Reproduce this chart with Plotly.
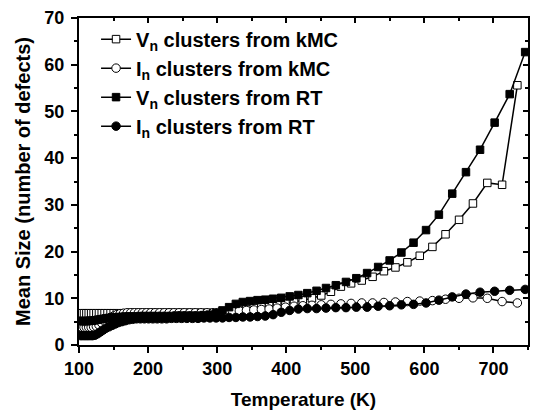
import plotly.graph_objects as go

# Temperatures (K) of the kMC points (open markers)
T_kmc = [100.9, 104.1, 107.3, 110.7, 114.1, 117.6, 121.2, 125.1, 128.9, 132.9,
         137.0, 141.3, 145.7, 150.2, 154.8, 159.6, 164.6, 169.7, 174.9, 180.3,
         185.9, 191.7, 197.7, 203.8, 210.1, 216.6, 223.4, 230.3, 237.3, 244.7,
         252.3, 260.2, 268.2, 276.5, 285.1, 294.0, 303.0, 312.5, 322.1, 332.1,
         342.4, 353.1, 364.0, 375.2, 386.8, 398.9, 411.3, 424.0, 437.2, 450.7,
         464.7, 479.1, 493.9, 509.3, 525.0, 541.4, 558.1, 575.4, 593.3, 611.6,
         630.6, 650.2, 670.3, 691.1, 712.5, 734.6]

# Temperatures (K) of the rate-theory points (filled markers)
T_rt = [102.5, 105.7, 109.0, 112.4, 115.9, 119.4, 123.1, 127.0, 130.9, 135.0,
        139.1, 143.5, 147.9, 152.5, 157.2, 162.1, 167.1, 172.3, 177.6, 183.1,
        188.8, 194.7, 200.7, 206.9, 213.3, 219.9, 226.8, 233.8, 241.0, 248.5,
        256.2, 264.2, 272.3, 280.8, 289.5, 298.5, 307.7, 317.3, 327.1, 337.2,
        347.7, 358.5, 369.6, 381.0, 392.8, 405.0, 417.6, 430.5, 443.9, 457.6,
        471.8, 486.5, 501.5, 517.1, 533.1, 549.7, 566.7, 584.3, 602.4, 621.0,
        640.3, 660.2, 680.6, 701.7, 723.5, 745.9]

vn_kmc = [6.8, 6.8, 6.8, 6.8, 6.8, 6.8, 6.8, 6.8, 6.8, 6.8,
          6.8, 6.8, 6.8, 6.8, 6.8, 6.8, 6.8, 6.8, 6.9, 6.9,
          6.9, 6.9, 6.9, 6.9, 6.9, 6.9, 6.9, 6.9, 6.9, 6.9,
          6.9, 6.9, 6.9, 6.9, 6.9, 6.9, 7.0, 7.1, 7.3, 7.5,
          7.7, 7.9, 8.1, 8.3, 8.6, 8.9, 9.2, 9.6, 10.0, 10.6,
          11.4, 12.5, 13.2, 13.8, 14.6, 15.8, 16.6, 17.7, 19.1, 21.0,
          23.7, 26.8, 30.3, 34.7, 34.3, 55.6]

in_kmc = [3.8, 3.8, 3.8, 3.8, 3.8, 3.8, 3.9, 4.0, 4.3, 4.7,
          5.1, 5.5, 5.9, 6.2, 6.5, 6.7, 6.8, 6.9, 6.9, 6.9,
          6.9, 6.9, 6.9, 6.9, 6.9, 6.9, 6.9, 6.9, 6.9, 6.9,
          6.9, 6.9, 6.9, 6.9, 6.9, 6.9, 7.0, 7.1, 7.2, 7.3,
          7.4, 7.5, 7.6, 7.7, 7.9, 8.1, 8.3, 8.4, 8.5, 8.6,
          8.7, 8.8, 8.9, 9.0, 9.0, 9.1, 9.2, 9.3, 9.4, 9.5,
          9.8, 10.0, 10.1, 10.0, 9.3, 9.0]

vn_rt = [5.1, 5.1, 5.1, 5.1, 5.2, 5.2, 5.3, 5.4, 5.5, 5.6,
         5.7, 5.8, 5.9, 5.9, 6.0, 6.0, 6.1, 6.1, 6.1, 6.1,
         6.2, 6.2, 6.2, 6.2, 6.2, 6.2, 6.2, 6.2, 6.3, 6.3,
         6.3, 6.3, 6.3, 6.4, 6.5, 6.8, 7.4, 8.1, 8.8, 9.2,
         9.4, 9.6, 9.7, 9.9, 10.1, 10.4, 10.7, 11.1, 11.6, 12.2,
         12.8, 13.5, 14.3, 15.4, 16.7, 18.1, 19.8, 21.9, 24.6, 27.9,
         32.4, 37.0, 41.8, 47.6, 53.7, 62.7]

in_rt = [2.0, 2.0, 2.0, 2.0, 2.0, 2.0, 2.1, 2.4, 2.8, 3.2,
         3.6, 3.9, 4.2, 4.5, 4.8, 5.0, 5.2, 5.4, 5.5, 5.6,
         5.6, 5.6, 5.6, 5.6, 5.6, 5.6, 5.6, 5.7, 5.7, 5.7,
         5.7, 5.7, 5.7, 5.8, 5.8, 5.8, 5.8, 5.9, 5.9, 6.0,
         6.0, 6.1, 6.2, 6.5, 7.0, 7.4, 7.7, 7.8, 7.8, 7.9,
         8.0, 8.0, 8.1, 8.1, 8.3, 8.4, 8.6, 8.7, 9.0, 9.6,
         10.3, 10.9, 11.3, 11.5, 11.7, 11.9]

labels = ["V<sub>n</sub> clusters from kMC", "I<sub>n</sub> clusters from kMC",
          "V<sub>n</sub> clusters from RT", "I<sub>n</sub> clusters from RT"]

FONT = "Liberation Sans, Arial, sans-serif"

fig = go.Figure()
series = [
    (T_kmc, vn_kmc, labels[0], "square", "white", 7.5),
    (T_kmc, in_kmc, labels[1], "circle", "white", 8.5),
    (T_rt, vn_rt, labels[2], "square", "black", 7.5),
    (T_rt, in_rt, labels[3], "circle", "black", 8.5),
]
for i, (tx, vy, name, sym, fill, sz) in enumerate(series):
    fig.add_trace(go.Scatter(
        x=tx, y=vy, name=name, mode="lines+markers", legendgroup=f"g{i}",
        line=dict(color="black", width=1.5),
        marker=dict(symbol=sym, size=sz, color=fill, line=dict(color="black", width=1)),
    ))

# helper trace for the mirrored (top/right) axes
fig.add_trace(go.Scatter(x=[None], y=[None], xaxis="x2", yaxis="y2",
                         showlegend=False, hoverinfo="skip"))

axis_common = dict(showgrid=False, zeroline=False, showline=True,
                   linecolor="black", linewidth=2, tickcolor="black", tickwidth=1.5)

fig.update_layout(
    width=536, height=417,
    margin=dict(l=79, r=8, t=14, b=72),
    plot_bgcolor="white", paper_bgcolor="white",
    font=dict(family=FONT, color="black", size=18, weight="bold"),
    xaxis=dict(range=[100, 750], tick0=100, dtick=100, ticks="outside", ticklen=6,
               ticklabelstandoff=0,
               minor=dict(dtick=50, ticks="outside", ticklen=3, tickcolor="black", tickwidth=1.5),
               tickfont=dict(family=FONT, size=18, weight="bold"),
               title=dict(text="Temperature (K)", standoff=15,
                          font=dict(family=FONT, size=19, weight="bold")),
               **axis_common),
    yaxis=dict(range=[0, 70], tick0=0, dtick=10, ticks="outside", ticklen=6,
               ticklabelstandoff=3,
               minor=dict(dtick=5, ticks="outside", ticklen=3, tickcolor="black", tickwidth=1.5),
               tickfont=dict(family=FONT, size=18, weight="bold"),
               title=dict(text="Mean Size (number of defects)", standoff=8,
                          font=dict(family=FONT, size=20, weight="bold")),
               **axis_common),
    xaxis2=dict(range=[100, 750], overlaying="x", side="top", anchor="y2",
                tick0=100, dtick=100, ticks="inside", ticklen=5, showticklabels=False,
                minor=dict(dtick=50, ticks="inside", ticklen=3, tickcolor="black", tickwidth=1.5),
                **axis_common),
    yaxis2=dict(range=[0, 70], overlaying="y", side="right", anchor="x2",
                tick0=0, dtick=10, ticks="inside", ticklen=5, showticklabels=False,
                minor=dict(dtick=5, ticks="inside", ticklen=3, tickcolor="black", tickwidth=1.5),
                **axis_common),
    legend=dict(x=0.038, y=0.995, xanchor="left", yanchor="top",
                bgcolor="rgba(0,0,0,0)", borderwidth=0, tracegroupgap=0,
                font=dict(family=FONT, size=20, weight="bold")),
)

fig.write_html("out.html")
